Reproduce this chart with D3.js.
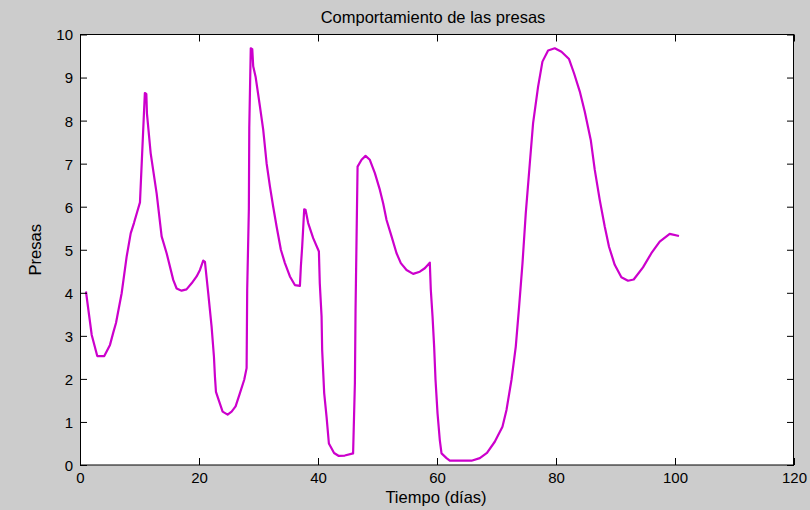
<!DOCTYPE html>
<html>
<head>
<meta charset="utf-8">
<script src="https://cdn.jsdelivr.net/npm/d3@7/dist/d3.min.js"></script>
<style>
  html, body { margin: 0; padding: 0; background: #cccccc; }
  svg { display: block; }
  text { font-family: "Liberation Sans", Arial, sans-serif; fill: #000; }
</style>
</head>
<body>
<svg id="chart" width="810" height="510"></svg>
<script>
// Simulated prey population over time (days)
const days = [
  1.0, 1.97, 2.9, 4.08, 5.04, 5.6, 6.05, 7.0, 7.84, 8.52, 9.07, 9.63, 10.08,
  10.9, 11.15, 11.25, 11.88, 12.88, 13.72, 14.56, 15.67, 16.24, 17.07, 17.9,
  18.76, 19.6, 20.16, 20.71, 21.0, 21.55, 22.12, 22.51, 22.68, 22.85, 23.4,
  23.97, 24.81, 25.48, 26.15, 26.88, 27.6, 28.0, 28.1, 28.38, 28.45, 28.7,
  28.95, 29.11, 29.51, 30.24, 30.79, 31.36, 31.92, 32.47, 33.04, 33.76, 34.44,
  35.28, 36.11, 36.96, 37.12, 37.34, 37.51, 37.68, 37.9, 38.35, 39.19, 40.03,
  40.15, 40.3, 40.6, 40.7, 41.04, 41.44, 41.83, 42.7, 43.5, 44.5, 45.9, 46.2,
  46.31, 46.48, 46.65, 47.32, 47.99, 48.71, 49.56, 50.4, 50.95, 51.52, 52.36,
  53.2, 53.92, 54.88, 55.99, 57.11, 57.95, 58.79, 58.96, 59.25, 59.52, 59.75,
  60.09, 60.47, 60.76, 61.6, 62.15, 65.8, 67.2, 68.4, 69.71, 71.0, 71.68,
  72.52, 73.24, 73.8, 74.37, 74.92, 75.6, 76.15, 76.99, 77.72, 78.67, 79.79,
  80.92, 82.19, 83.03, 83.99, 84.83, 85.84, 86.51, 87.35, 88.19, 88.91, 89.87,
  90.99, 92.1, 93.06, 94.62, 96.03, 97.43, 99.11, 100.67
];
const presas = [
  4.03, 3.02, 2.53, 2.53, 2.79, 3.08, 3.3, 3.99, 4.84, 5.38, 5.62, 5.89, 6.1,
  8.64, 8.62, 8.17, 7.24, 6.31, 5.31, 4.92, 4.3, 4.1, 4.05, 4.08,
  4.22, 4.38, 4.53, 4.75, 4.72, 3.99, 3.21, 2.52, 2.05, 1.70, 1.47,
  1.24, 1.17, 1.24, 1.36, 1.67, 1.98, 2.25, 4.07, 5.95, 7.83, 9.68,
  9.66, 9.26, 9.02, 8.33, 7.79, 7.01, 6.47, 6.0, 5.54, 5.0, 4.69,
  4.38, 4.18, 4.16, 4.61, 5.07, 5.5, 5.94, 5.93, 5.62, 5.27, 5.0,
  4.96, 4.22, 3.45, 2.67, 1.67, 1.12, 0.5, 0.28, 0.21, 0.22, 0.27, 1.9,
  3.6, 5.27, 6.93, 7.09, 7.18, 7.09, 6.78, 6.39, 6.08, 5.69, 5.31,
  4.92, 4.69, 4.53, 4.44, 4.49, 4.57, 4.70, 4.07, 3.45, 2.75, 1.98,
  1.2, 0.58, 0.27, 0.16, 0.10, 0.10, 0.16, 0.28, 0.54, 0.89, 1.28,
  1.98, 2.75, 3.68, 4.69, 5.85, 7.01, 7.94, 8.79, 9.37, 9.63, 9.68,
  9.6, 9.43, 9.1, 8.68, 8.21, 7.55, 6.86, 6.16, 5.54, 5.07, 4.65,
  4.36, 4.28, 4.31, 4.59, 4.92, 5.19, 5.37, 5.32
];
const xTicks = [0, 20, 40, 60, 80, 100, 120];
const yTicks = [0, 1, 2, 3, 4, 5, 6, 7, 8, 9, 10];
const titleText = "Comportamiento de las presas";
const xLabelText = "Tiempo (días)";
const yLabelText = "Presas";

const svg = d3.select("#chart");
const plotLeft = 80, plotRight = 794, plotTop = 34.5, plotBottom = 465;

const x = d3.scaleLinear().domain([0, 120]).range([plotLeft, plotRight]);
const y = d3.scaleLinear().domain([0, 10]).range([plotBottom, plotTop]);

// plot area
svg.append("rect")
  .attr("x", plotLeft).attr("y", plotTop)
  .attr("width", plotRight - plotLeft).attr("height", plotBottom - plotTop)
  .attr("fill", "#ffffff");

// data line
const line = d3.line()
  .x((d, i) => x(days[i]))
  .y(d => y(d));
svg.append("path")
  .datum(presas)
  .attr("d", line)
  .attr("fill", "none")
  .attr("stroke", "#cc00cc")
  .attr("stroke-width", 2.2)
  .attr("stroke-linejoin", "round");

// axes with inward ticks on all four sides
const tick = 7;
const gx = svg.append("g").attr("transform", `translate(0,${plotBottom})`)
  .call(d3.axisBottom(x).tickValues(xTicks).tickSizeInner(-tick).tickSizeOuter(0).tickPadding(7));
const gxTop = svg.append("g").attr("transform", `translate(0,${plotTop})`)
  .call(d3.axisTop(x).tickValues(xTicks).tickSizeInner(-tick).tickSizeOuter(0).tickFormat(""));
const gy = svg.append("g").attr("transform", `translate(${plotLeft},0)`)
  .call(d3.axisLeft(y).tickValues(yTicks).tickSizeInner(-tick).tickSizeOuter(0).tickPadding(7));
const gyRight = svg.append("g").attr("transform", `translate(${plotRight},0)`)
  .call(d3.axisRight(y).tickValues(yTicks).tickSizeInner(-tick).tickSizeOuter(0).tickFormat(""));

[gx, gxTop, gy, gyRight].forEach(g => {
  g.select(".domain").remove();
  g.selectAll(".tick line").attr("stroke", "#000").attr("stroke-width", 1);
  g.selectAll(".tick text")
    .attr("font-family", "'Liberation Sans', Arial, sans-serif")
    .attr("font-size", 15)
    .attr("fill", "#000");
});
gy.selectAll(".tick text").attr("dy", "0.36em");

// axes frame
svg.append("rect")
  .attr("x", plotLeft + 0.5).attr("y", plotTop)
  .attr("width", plotRight - plotLeft - 1).attr("height", plotBottom - plotTop)
  .attr("fill", "none")
  .attr("stroke", "#000")
  .attr("stroke-width", 1);

// title and axis labels
svg.append("text")
  .attr("x", (plotLeft + plotRight) / 2 - 4).attr("y", 22.5)
  .attr("text-anchor", "middle")
  .attr("font-size", 16.5)
  .text(titleText);

svg.append("text")
  .attr("x", (plotLeft + plotRight) / 2 - 1).attr("y", 503)
  .attr("text-anchor", "middle")
  .attr("font-size", 16.5)
  .text(xLabelText);

svg.append("text")
  .attr("transform", `translate(41,${(plotTop + plotBottom) / 2}) rotate(-90)`)
  .attr("text-anchor", "middle")
  .attr("font-size", 16.5)
  .text(yLabelText);
</script>
</body>
</html>
